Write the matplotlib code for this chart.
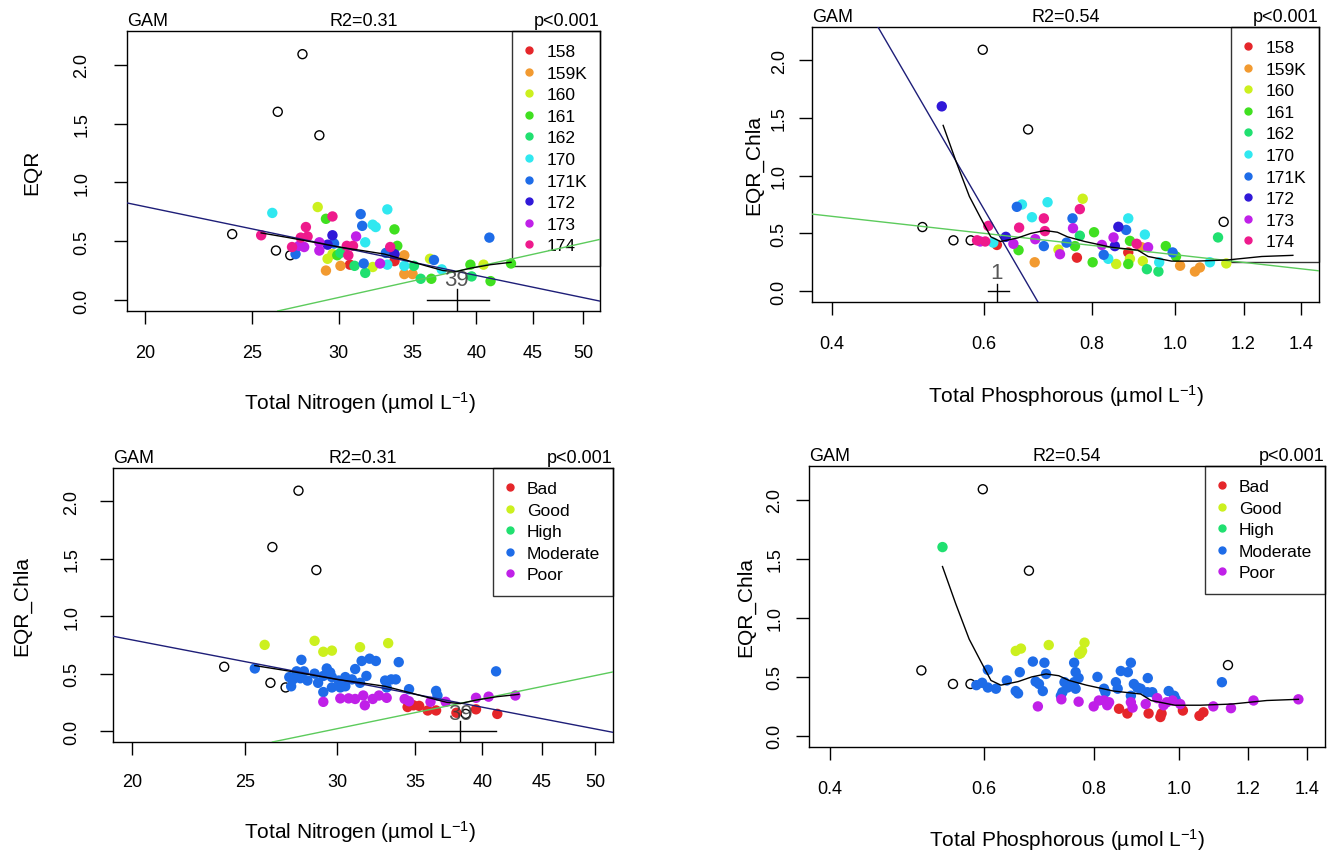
import numpy as np
import matplotlib
matplotlib.use("Agg")
import matplotlib.pyplot as plt
from matplotlib.lines import Line2D
from matplotlib.ticker import NullLocator

plt.rcParams['font.family'] = 'Liberation Sans'
plt.rcParams['mathtext.fontset'] = 'custom'
plt.rcParams['mathtext.rm'] = 'Liberation Sans'
plt.rcParams['mathtext.it'] = 'Liberation Sans:italic'

# --- data ---
sites = ['158', '159K', '160', '161', '162', '170', '171K', '172', '173', '174']
site_colors = ['#E5262A', '#F29A30', '#CCF01E', '#40E020', '#20E070',
               '#30E8F0', '#1E6CE8', '#3018D8', '#C020E8', '#EE1A8C']
status = ['Bad', 'Good', 'High', 'Moderate', 'Poor']
status_colors = ['#E5262A', '#CCF01E', '#20E070', '#1E6CE8', '#C020E8']

# Total nitrogen vs EQR, coloured by site (top left)
tn_x = [26.1, 28.7, 29.2, 29.6, 31.4, 33.2, 32.2, 32.4, 31.5, 33.7, 28.0, 25.5, 27.7,
        28.1, 29.6, 31.1, 28.8, 29.3, 29.7, 27.2, 27.6, 27.9, 27.4, 28.8, 30.5, 30.9,
        31.7, 30.6, 29.3, 29.9, 30.1, 29.6, 29.2, 30.1, 30.7, 31.0, 31.6, 31.7, 32.2,
        32.7, 33.1, 33.4, 33.7, 33.7, 33.2, 33.9, 34.4, 34.4, 34.4, 35.0, 35.1, 35.6,
        36.3, 36.6, 36.4, 37.2, 39.5, 39.6, 40.6, 41.2, 41.1, 43.0]
tn_y = [0.74, 0.79, 0.69, 0.71, 0.73, 0.77, 0.64, 0.62, 0.63, 0.60, 0.62, 0.55, 0.53,
        0.54, 0.55, 0.54, 0.49, 0.47, 0.48, 0.45, 0.46, 0.45, 0.39, 0.42, 0.46, 0.46,
        0.49, 0.38, 0.35, 0.38, 0.40, 0.39, 0.25, 0.29, 0.30, 0.29, 0.31, 0.23, 0.28,
        0.31, 0.40, 0.45, 0.39, 0.33, 0.30, 0.46, 0.38, 0.29, 0.22, 0.22, 0.29, 0.18,
        0.35, 0.34, 0.18, 0.26, 0.30, 0.20, 0.30, 0.16, 0.53, 0.31]
tn_site = ['170', '160', '161', '174', '171K', '170', '170', '170', '171K', '161', '174', '174', '174',
           '174', '172', '173', '173', '172', '171K', '174', '173', '173', '171K', '173', '174', '174',
           '170', '174', '160', '161', '162', '160', '159K', '159K', '158', '162', '171K', '162', '160',
           '173', '171K', '174', '172', '158', '170', '161', '159K', '170', '159K', '159K', '162', '162',
           '160', '171K', '161', '170', '161', '162', '160', '161', '171K', '161']

# Total nitrogen vs EQR_Chla, coloured by status (bottom left)
tn2_x = [26.0, 28.7, 29.2, 29.7, 31.4, 33.2,
         25.5, 27.96, 27.7, 28.1, 27.3, 27.5, 27.9, 27.4, 28.7, 29.4, 29.2, 29.7, 28.9,
         29.2, 29.7, 30.2, 30.1, 30.5, 30.5, 30.9, 31.1, 31.5, 32.0, 32.4, 33.9, 31.8,
         31.4, 33.0, 33.4, 33.7, 33.1, 34.6, 36.5, 36.6, 41.1, 28.3, 29.6,
         29.2, 30.2, 30.7, 31.1, 31.6, 31.7, 32.2, 32.6, 33.1, 34.3, 34.6, 36.1, 37.2,
         39.5, 40.5, 42.7,
         34.5, 34.9, 35.3, 35.9, 36.5, 38.0, 39.5, 41.2]
tn2_y = [0.75, 0.785, 0.69, 0.70, 0.73, 0.765,
         0.545, 0.62, 0.52, 0.52, 0.47, 0.45, 0.46, 0.39, 0.50, 0.545, 0.48, 0.47, 0.42,
         0.34, 0.38, 0.38, 0.44, 0.39, 0.47, 0.45, 0.54, 0.61, 0.63, 0.61, 0.60, 0.48,
         0.42, 0.44, 0.45, 0.45, 0.38, 0.365, 0.35, 0.31, 0.52, 0.44, 0.51,
         0.255, 0.285, 0.285, 0.28, 0.31, 0.225, 0.28, 0.31, 0.29, 0.28, 0.26, 0.255, 0.255,
         0.29, 0.30, 0.31,
         0.21, 0.225, 0.22, 0.18, 0.18, 0.16, 0.19, 0.15]
tn2_status = (['Good'] * 6 + ['Moderate'] * 37 + ['Poor'] * 16 + ['Bad'] * 8)

# outliers (open circles)
tn_out_x = [27.8, 26.4, 28.8, 24.0, 26.3, 27.1]
tn_out_y = [2.09, 1.60, 1.40, 0.56, 0.42, 0.38]
tn2_out_x = tn_out_x + [38.7]
tn2_out_y = tn_out_y + [0.15]

# fitted lines, nitrogen
tn_lin_x = [19.26, 51.8]
tn_lin_y = [0.825, -0.01]
tn_lin2_x = [26.4, 51.8]
tn_lin2_y = [-0.094, 0.515]
tn_gam_x = [25.5, 27.0, 28.5, 30.0, 31.5, 33.0, 34.5, 36.0, 37.3, 38.3, 39.5, 41.2, 43.0]
tn_gam_y = [0.57, 0.53, 0.49, 0.45, 0.42, 0.39, 0.34, 0.29, 0.25, 0.24, 0.27, 0.30, 0.32]

# Total phosphorous vs EQR_Chla, coloured by site (top right)
tp_x = [0.655, 0.664, 0.711, 0.781, 0.775, 0.682, 0.704, 0.760, 0.882, 0.607, 0.659, 0.706,
        0.761, 0.805, 0.859, 0.877, 0.922, 0.848, 0.636, 0.589, 0.602, 0.594, 0.615, 0.621,
        0.649, 0.658, 0.688, 0.704, 0.735, 0.732, 0.748, 0.765, 0.775, 0.687, 0.769, 0.802,
        0.822, 0.826, 0.836, 0.854, 0.851, 0.886, 0.902, 0.914, 0.930, 0.882, 0.886, 0.882,
        0.917, 0.927, 0.956, 0.958, 0.975, 0.993, 1.002, 1.013, 1.054, 1.068, 1.097, 1.121,
        1.146, 0.536]
tp_y = [0.73, 0.75, 0.77, 0.80, 0.71, 0.64, 0.63, 0.63, 0.63, 0.565, 0.55, 0.52,
        0.545, 0.51, 0.557, 0.53, 0.49, 0.465, 0.47, 0.44, 0.43, 0.43, 0.42, 0.40,
        0.41, 0.355, 0.45, 0.39, 0.32, 0.36, 0.42, 0.39, 0.48, 0.25, 0.29, 0.25,
        0.40, 0.315, 0.28, 0.235, 0.39, 0.435, 0.41, 0.38, 0.38, 0.335, 0.28, 0.235,
        0.26, 0.19, 0.17, 0.25, 0.39, 0.335, 0.30, 0.22, 0.17, 0.205, 0.25, 0.465,
        0.24, 1.60]
tp_site = ['171K', '170', '170', '160', '174', '170', '174', '171K', '170', '174', '174', '174',
           '173', '161', '172', '171K', '170', '173', '172', '174', '174', '173', '170', '158',
           '173', '161', '173', '171K', '173', '160', '171K', '161', '162', '159K', '158', '161',
           '173', '171K', '170', '160', '172', '161', '174', '159K', '173', '158', '160', '161',
           '160', '162', '162', '170', '161', '171K', '161', '159K', '159K', '159K', '170', '162',
           '160', '172']

# Total phosphorous vs EQR_Chla, coloured by status (bottom right)
tp2_x = [0.652, 0.661, 0.711, 0.781, 0.773, 0.776, 0.770,
         0.538,
         0.606, 0.588, 0.597, 0.606, 0.619, 0.637, 0.652, 0.656, 0.659, 0.682, 0.703, 0.687,
         0.693, 0.706, 0.700, 0.760, 0.763, 0.769, 0.760, 0.741, 0.747, 0.763, 0.734, 0.737,
         0.808, 0.848, 0.852, 0.859, 0.882, 0.875, 0.822, 0.825, 0.889, 0.897, 0.905, 0.921,
         0.882, 0.922, 0.933, 0.974, 0.988, 0.992, 1.12,
         0.691, 0.735, 0.769, 0.800, 0.811, 0.822, 0.833, 0.829, 0.882, 0.886, 0.917, 0.945,
         0.961, 0.969, 0.984, 1.004, 1.095, 1.147, 1.217, 1.369,
         0.855, 0.874, 0.924, 0.953, 0.956, 1.011, 1.056, 1.067]
tp2_y = [0.72, 0.74, 0.77, 0.79, 0.70, 0.72, 0.695,
         1.60,
         0.56, 0.43, 0.45, 0.41, 0.40, 0.47, 0.38, 0.36, 0.54, 0.63, 0.62, 0.46,
         0.44, 0.525, 0.38, 0.62, 0.54, 0.49, 0.455, 0.455, 0.41, 0.40, 0.34, 0.37,
         0.50, 0.455, 0.40, 0.55, 0.62, 0.54, 0.40, 0.37, 0.44, 0.41, 0.40, 0.37,
         0.34, 0.49, 0.37, 0.38, 0.34, 0.31, 0.455,
         0.25, 0.31, 0.29, 0.25, 0.30, 0.30, 0.285, 0.26, 0.285, 0.24, 0.27, 0.32,
         0.26, 0.285, 0.30, 0.27, 0.25, 0.235, 0.30, 0.31,
         0.23, 0.19, 0.19, 0.16, 0.19, 0.215, 0.17, 0.20]
tp2_status = (['Good'] * 7 + ['High'] + ['Moderate'] * 43 + ['Poor'] * 20 + ['Bad'] * 8)

tp_out_x = [0.598, 0.675, 0.509, 0.553, 0.579, 1.138]
tp_out_y = [2.09, 1.40, 0.555, 0.44, 0.44, 0.60]

# fitted lines, phosphorous
tp_lin_x = [0.452, 0.693]
tp_lin_y = [2.287, -0.094]
tp_lin2_x = [0.379, 1.468]
tp_lin2_y = [0.667, 0.176]
tp_gam_x = [0.538, 0.557, 0.577, 0.595, 0.611, 0.627, 0.656, 0.68, 0.706, 0.73, 0.75,
            0.785, 0.843, 0.905, 0.93, 0.99, 1.058, 1.15, 1.26, 1.369]
tp_gam_y = [1.435, 1.12, 0.82, 0.63, 0.47, 0.43, 0.46, 0.50, 0.525, 0.51, 0.47,
            0.43, 0.38, 0.355, 0.30, 0.26, 0.26, 0.27, 0.30, 0.31]

tn_ticks = [20, 25, 30, 35, 40, 45, 50]
tp_ticks = [0.4, 0.6, 0.8, 1.0, 1.2, 1.4]
tp_ticklabels = ['0.4', '0.6', '0.8', '1.0', '1.2', '1.4']
y_ticks = [0.0, 0.5, 1.0, 1.5, 2.0]
y_lim = (-0.094, 2.287)

W, H = 1330, 854
fig = plt.figure(figsize=(W / 100, H / 100), dpi=100)


def add_ax(x0, y0, x1, y1):
    return fig.add_axes([x0 / W, 1 - y1 / H, (x1 - x0) / W, (y1 - y0) / H])


def style_axis(ax, ticks, ticklabels, xlim, r2, xpad, ypad):
    ax.set_xscale('log')
    ax.set_xlim(*xlim)
    ax.set_ylim(*y_lim)
    ax.set_xticks(ticks)
    ax.set_xticklabels(ticklabels)
    ax.xaxis.set_minor_locator(NullLocator())
    ax.set_yticks(y_ticks)
    ax.set_yticklabels([f'{v:.1f}' for v in y_ticks], rotation=90, va='center')
    ax.tick_params(axis='x', length=9.5, width=1, pad=xpad, labelsize=13)
    ax.tick_params(axis='y', length=9.5, width=1, pad=ypad, labelsize=13)
    for sp in ax.spines.values():
        sp.set_linewidth(1.0)
    kw = dict(xycoords='axes fraction', textcoords='offset points', fontsize=13, va='baseline')
    ax.annotate('GAM', (0, 1), xytext=(0, 4), ha='left', **kw)
    ax.annotate(r2, (0.5, 1), xytext=(0, 4), ha='center', **kw)
    ax.annotate('p<0.001', (1, 1), xytext=(0, 4), ha='right', **kw)


def add_legend(ax, labels, colors):
    handles = [Line2D([], [], marker='o', ls='none', color=c, ms=5) for c in colors]
    leg = ax.legend(handles, labels, loc='upper right', bbox_to_anchor=(1, 1),
                    borderaxespad=0, fancybox=False, edgecolor='black', facecolor='none',
                    framealpha=None, fontsize=12.5, handlelength=0.45, handletextpad=0.76,
                    borderpad=0.75, labelspacing=0.37)
    leg.get_frame().set_linewidth(1.0)
    leg.set_zorder(2)


def draw_groups(ax, x, y, groups, names, colors):
    x = np.array(x)
    y = np.array(y)
    groups = np.array(groups)
    for name, col in zip(names, colors):
        m = groups == name
        if m.any():
            ax.scatter(x[m], y[m], s=56, color=col, edgecolors='none', zorder=3)


def draw_outliers(ax, x, y):
    ax.scatter(x, y, s=42, facecolors='none', edgecolors='black', linewidths=1.0, zorder=3)


blue_line = '#1E1E78'
green_line = '#5CCB5C'

# ---- top left ----
ax1 = add_ax(127, 32, 600, 312)
draw_outliers(ax1, tn_out_x, tn_out_y)
draw_groups(ax1, tn_x, tn_y, tn_site, sites, site_colors)
ax1.plot(tn_lin_x, tn_lin_y, color=blue_line, lw=1, zorder=4)
ax1.plot(tn_lin2_x, tn_lin2_y, color=green_line, lw=1, zorder=4)
ax1.plot(tn_gam_x, tn_gam_y, color='black', lw=1, zorder=4)
ax1.plot([36.1, 41.1], [0, 0], color='black', lw=1, zorder=4)
ax1.plot([38.4, 38.4], [y_lim[0], 0.09], color='black', lw=1, zorder=4)
ax1.text(38.4, 0.17, '39', fontsize=16, color='#3a3a3a', alpha=0.85, ha='center', va='center', zorder=5)
style_axis(ax1, tn_ticks, [str(t) for t in tn_ticks], (19.26, 51.8), 'R2=0.31', 14, 17)
add_legend(ax1, sites, site_colors)

# ---- top right ----
ax2 = add_ax(812, 28, 1319, 303)
draw_outliers(ax2, tp_out_x, tp_out_y)
draw_groups(ax2, tp_x, tp_y, tp_site, sites, site_colors)
ax2.plot(tp_lin_x, tp_lin_y, color=blue_line, lw=1, zorder=4)
ax2.plot(tp_lin2_x, tp_lin2_y, color=green_line, lw=1, zorder=4)
ax2.plot(tp_gam_x, tp_gam_y, color='black', lw=1, zorder=4)
ax2.plot([0.606, 0.641], [0, 0], color='black', lw=1, zorder=4)
ax2.plot([0.621, 0.621], [y_lim[0], 0.06], color='black', lw=1, zorder=4)
ax2.text(0.62, 0.16, '1', fontsize=16, color='#3a3a3a', alpha=0.85, ha='center', va='center', zorder=5)
style_axis(ax2, tp_ticks, tp_ticklabels, (0.379, 1.468), 'R2=0.54', 14, 8)
add_legend(ax2, sites, site_colors)

# ---- bottom left ----
ax3 = add_ax(113, 469, 613, 743)
draw_outliers(ax3, tn2_out_x, tn2_out_y)
draw_groups(ax3, tn2_x, tn2_y, tn2_status, status, status_colors)
ax3.plot(tn_lin_x, tn_lin_y, color=blue_line, lw=1, zorder=4)
ax3.plot(tn_lin2_x, tn_lin2_y, color=green_line, lw=1, zorder=4)
ax3.plot(tn_gam_x, tn_gam_y, color='black', lw=1, zorder=4)
ax3.plot([36.0, 41.1], [0, 0], color='black', lw=1, zorder=4)
ax3.plot([38.3, 38.3], [y_lim[0], 0.09], color='black', lw=1, zorder=4)
ax3.text(38.3, 0.15, '39', fontsize=16, color='#3a3a3a', alpha=0.85, ha='center', va='center', zorder=5)
style_axis(ax3, tn_ticks, [str(t) for t in tn_ticks], (19.26, 51.8), 'R2=0.31', 13, 14)
add_legend(ax3, status, status_colors)

# ---- bottom right ----
ax4 = add_ax(809, 467, 1325, 748)
draw_outliers(ax4, tp_out_x, tp_out_y)
draw_groups(ax4, tp2_x, tp2_y, tp2_status, status, status_colors)
ax4.plot(tp_gam_x, tp_gam_y, color='black', lw=1, zorder=4)
style_axis(ax4, tp_ticks, tp_ticklabels, (0.379, 1.468), 'R2=0.54', 14, 9)
add_legend(ax4, status, status_colors)

# axis titles
lab = dict(fontsize=15, ha='center', va='center')
fig.text(32 / W, 1 - 172 / H, 'EQR', rotation=90, **lab)
fig.text(754 / W, 1 - 165 / H, 'EQR_Chla', rotation=90, **lab)
fig.text(22 / W, 1 - 606 / H, 'EQR_Chla', rotation=90, **lab)
fig.text(746 / W, 1 - 607 / H, 'EQR_Chla', rotation=90, **lab)
xl_n = 'Total Nitrogen (µmol L$^{-1}$)'
xl_p = 'Total Phosphorous (µmol L$^{-1}$)'
fig.text(360 / W, 1 - 403 / H, xl_n, **lab)
fig.text(1066 / W, 1 - 396 / H, xl_p, **lab)
fig.text(360 / W, 1 - 832 / H, xl_n, **lab)
fig.text(1067 / W, 1 - 840 / H, xl_p, **lab)

fig.savefig('out.png', dpi=100, facecolor='white')
